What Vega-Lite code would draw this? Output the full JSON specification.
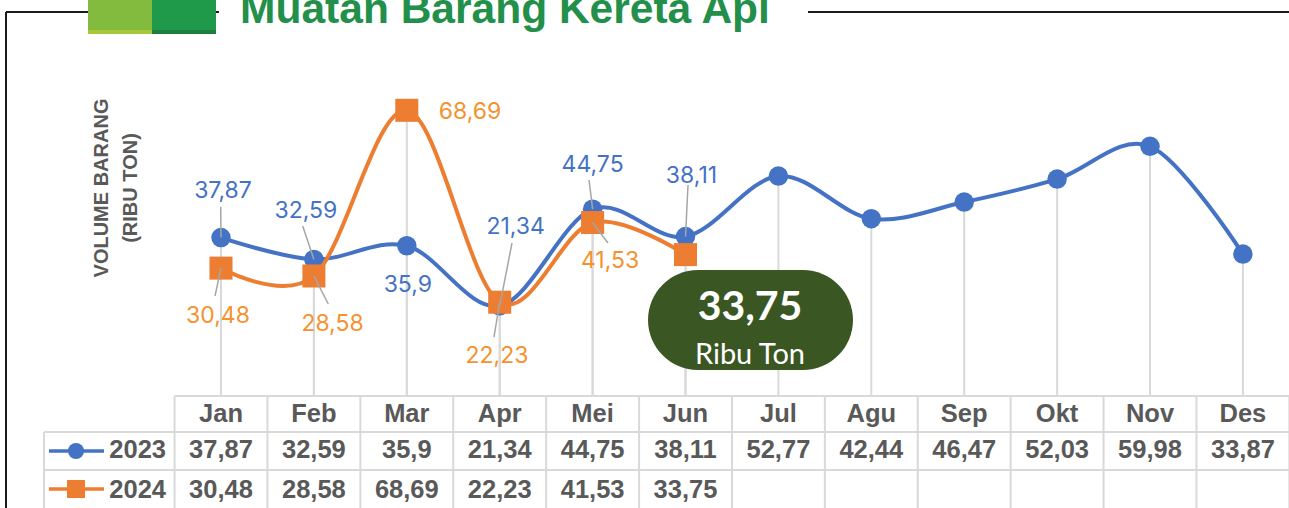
{
  "$schema": "https://vega.github.io/schema/vega-lite/v6.json",
  "width": 1289,
  "height": 508,
  "autosize": {"type": "none"},
  "padding": 0,
  "background": "white",
  "config": {
    "view": {"stroke": null},
    "locale": {"number": {"decimal": ",", "thousands": ".", "grouping": [3], "currency": ["", ""]}},
    "text": {"font": "Liberation Sans"}
  },
  "data": {
    "values": [
      {"month": "Jan", "i": 1, "year": "2023", "value": 37.87},
      {"month": "Feb", "i": 2, "year": "2023", "value": 32.59},
      {"month": "Mar", "i": 3, "year": "2023", "value": 35.9},
      {"month": "Apr", "i": 4, "year": "2023", "value": 21.34},
      {"month": "Mei", "i": 5, "year": "2023", "value": 44.75},
      {"month": "Jun", "i": 6, "year": "2023", "value": 38.11},
      {"month": "Jul", "i": 7, "year": "2023", "value": 52.77},
      {"month": "Agu", "i": 8, "year": "2023", "value": 42.44},
      {"month": "Sep", "i": 9, "year": "2023", "value": 46.47},
      {"month": "Okt", "i": 10, "year": "2023", "value": 52.03},
      {"month": "Nov", "i": 11, "year": "2023", "value": 59.98},
      {"month": "Des", "i": 12, "year": "2023", "value": 33.87},
      {"month": "Jan", "i": 1, "year": "2024", "value": 30.48},
      {"month": "Feb", "i": 2, "year": "2024", "value": 28.58},
      {"month": "Mar", "i": 3, "year": "2024", "value": 68.69},
      {"month": "Apr", "i": 4, "year": "2024", "value": 22.23},
      {"month": "Mei", "i": 5, "year": "2024", "value": 41.53},
      {"month": "Jun", "i": 6, "year": "2024", "value": 33.75}
    ]
  },
  "layer": [
    {"data": {"values": [{}]}, "mark": {"type": "rule", "color": "#1a1a1a", "strokeWidth": 2},
     "encoding": {"x": {"datum": -1.3143, "type": "quantitative", "scale": {"domain": [-1.3789, 12.4962], "nice": false, "zero": false}, "axis": null},
                  "x2": {"datum": 0.9785},
                  "y": {"datum": 92.49, "type": "quantitative", "scale": {"domain": [-27.603, 95.4], "nice": false, "zero": false}, "axis": null}}},
    {"data": {"values": [{}]}, "mark": {"type": "rule", "color": "#1a1a1a", "strokeWidth": 2},
     "encoding": {"x": {"datum": 7.3186}, "x2": {"datum": 12.4962}, "y": {"datum": 92.49}}},
    {"data": {"values": [{}]}, "mark": {"type": "rule", "color": "#1a1a1a", "strokeWidth": 2},
     "encoding": {"x": {"datum": -1.3143}, "y": {"datum": 92.49}, "y2": {"datum": -27.603}}},
    {"data": {"values": [{}]}, "mark": {"type": "rect", "color": "#83BB3E"},
     "encoding": {"x": {"datum": -0.4316}, "x2": {"datum": 0.2573}, "y": {"datum": 95.4}, "y2": {"datum": 87.17}}},
    {"data": {"values": [{}]}, "mark": {"type": "rect", "color": "#A8C83C"},
     "encoding": {"x": {"datum": -0.4316}, "x2": {"datum": 0.2573}, "y": {"datum": 88.14}, "y2": {"datum": 87.17}}},
    {"data": {"values": [{}]}, "mark": {"type": "rect", "color": "#1F9A4B"},
     "encoding": {"x": {"datum": 0.2573}, "x2": {"datum": 0.9462}, "y": {"datum": 95.4}, "y2": {"datum": 87.17}}},
    {"data": {"values": [{}]}, "mark": {"type": "rect", "color": "#1C8041"},
     "encoding": {"x": {"datum": 0.2573}, "x2": {"datum": 0.9462}, "y": {"datum": 88.14}, "y2": {"datum": 87.17}}},
    {"data": {"values": [{}]}, "mark": {"type": "text", "font": "Liberation Sans", "fontSize": 42.5, "fontWeight": "bold", "color": "#22904A", "align": "center", "baseline": "alphabetic"},
     "encoding": {"x": {"datum": 4.057}, "y": {"datum": 89.83}, "text": {"value": "Muatan Barang Kereta Api"}}},
    {"data": {"values": [{}]}, "mark": {"type": "text", "font": "Liberation Sans", "fontSize": 20, "fontWeight": "bold", "color": "#595959", "angle": 270, "align": "center", "baseline": "middle", "lineHeight": 29},
     "encoding": {"x": {"datum": -0.2756}, "y": {"datum": 49.88}, "text": {"value": ["VOLUME BARANG", "(RIBU TON)"]}}},

    {"mark": {"type": "rule", "color": "#D9D9D9", "strokeWidth": 2},
     "encoding": {"x": {"field": "i", "type": "quantitative"}, "y": {"field": "value", "type": "quantitative"}, "y2": {"datum": -0.484}}},

    {"data": {"values": [{}]}, "mark": {"type": "rule", "color": "#D9D9D9", "strokeWidth": 2},
     "encoding": {"x": {"datum": 0.5}, "x2": {"datum": 12.4962}, "y": {"datum": -0.484}}},
    {"data": {"values": [{}]}, "mark": {"type": "rule", "color": "#D9D9D9", "strokeWidth": 2},
     "encoding": {"x": {"datum": -0.9053}, "x2": {"datum": 12.4962}, "y": {"datum": -9.201}}},
    {"data": {"values": [{}]}, "mark": {"type": "rule", "color": "#D9D9D9", "strokeWidth": 2},
     "encoding": {"x": {"datum": -0.9053}, "x2": {"datum": 12.4962}, "y": {"datum": -18.402}}},
    {"data": {"values": [{}]}, "mark": {"type": "rule", "color": "#D9D9D9", "strokeWidth": 2},
     "encoding": {"x": {"datum": 0.5}, "y": {"datum": -0.484}, "y2": {"datum": -27.603}}},
    {"data": {"values": [{}]}, "mark": {"type": "rule", "color": "#D9D9D9", "strokeWidth": 2},
     "encoding": {"x": {"datum": -0.9053}, "y": {"datum": -9.201}, "y2": {"datum": -27.603}}},
    {"transform": [{"filter": "datum.year == '2023'"}],
     "mark": {"type": "rule", "color": "#D9D9D9", "strokeWidth": 2, "xOffset": 46.45},
     "encoding": {"x": {"field": "i", "type": "quantitative"}, "y": {"datum": -0.484}, "y2": {"datum": -27.603}}},

    {"transform": [{"filter": "datum.year == '2023'"}],
     "mark": {"type": "line", "color": "#4472C4", "strokeWidth": 4, "interpolate": "cardinal"},
     "encoding": {"x": {"field": "i", "type": "quantitative"}, "y": {"field": "value", "type": "quantitative"}}},
    {"transform": [{"filter": "datum.year == '2023'"}],
     "mark": {"type": "point", "shape": "circle", "filled": true, "opacity": 1, "size": 380, "color": "#4472C4"},
     "encoding": {"x": {"field": "i", "type": "quantitative"}, "y": {"field": "value", "type": "quantitative"}}},
    {"transform": [{"filter": "datum.year == '2024'"}],
     "mark": {"type": "line", "color": "#ED7D31", "strokeWidth": 4, "interpolate": "cardinal"},
     "encoding": {"x": {"field": "i", "type": "quantitative"}, "y": {"field": "value", "type": "quantitative"}}},
    {"transform": [{"filter": "datum.year == '2024'"}],
     "mark": {"type": "point", "shape": "square", "filled": true, "opacity": 1, "size": 530, "color": "#ED7D31"},
     "encoding": {"x": {"field": "i", "type": "quantitative"}, "y": {"field": "value", "type": "quantitative"}}},

    {"transform": [{"filter": "datum.year == '2023' && datum.month == 'Jan'"}], "mark": {"type": "rule", "color": "#A6A6A6", "strokeWidth": 1.5},
     "encoding": {"x": {"field": "i", "type": "quantitative"}, "y": {"field": "value", "type": "quantitative"}, "x2": {"datum": 0.9968}, "y2": {"datum": 45.35}}},
    {"transform": [{"filter": "datum.year == '2023' && datum.month == 'Feb'"}], "mark": {"type": "rule", "color": "#A6A6A6", "strokeWidth": 1.5},
     "encoding": {"x": {"field": "i", "type": "quantitative"}, "y": {"field": "value", "type": "quantitative"}, "x2": {"datum": 1.8794}, "y2": {"datum": 40.68}}},
    {"transform": [{"filter": "datum.year == '2024' && datum.month == 'Jan'"}], "mark": {"type": "rule", "color": "#A6A6A6", "strokeWidth": 1.5},
     "encoding": {"x": {"field": "i", "type": "quantitative"}, "y": {"field": "value", "type": "quantitative"}, "x2": {"datum": 0.9354}, "y2": {"datum": 23.73}}},
    {"transform": [{"filter": "datum.year == '2024' && datum.month == 'Feb'"}], "mark": {"type": "rule", "color": "#A6A6A6", "strokeWidth": 1.5},
     "encoding": {"x": {"field": "i", "type": "quantitative"}, "y": {"field": "value", "type": "quantitative"}, "x2": {"datum": 2.155}, "y2": {"datum": 21.79}}},
    {"transform": [{"filter": "datum.year == '2023' && datum.month == 'Apr'"}], "mark": {"type": "rule", "color": "#A6A6A6", "strokeWidth": 1.5},
     "encoding": {"x": {"field": "i", "type": "quantitative"}, "y": {"field": "value", "type": "quantitative"}, "x2": {"datum": 4.1324}, "y2": {"datum": 36.56}}},
    {"transform": [{"filter": "datum.year == '2024' && datum.month == 'Apr'"}], "mark": {"type": "rule", "color": "#A6A6A6", "strokeWidth": 1.5},
     "encoding": {"x": {"field": "i", "type": "quantitative"}, "y": {"field": "value", "type": "quantitative"}, "x2": {"datum": 3.9386}, "y2": {"datum": 13.8}}},
    {"transform": [{"filter": "datum.year == '2023' && datum.month == 'Mei'"}], "mark": {"type": "rule", "color": "#A6A6A6", "strokeWidth": 1.5},
     "encoding": {"x": {"field": "i", "type": "quantitative"}, "y": {"field": "value", "type": "quantitative"}, "x2": {"datum": 4.9613}, "y2": {"datum": 51.82}}},
    {"transform": [{"filter": "datum.year == '2024' && datum.month == 'Mei'"}], "mark": {"type": "rule", "color": "#A6A6A6", "strokeWidth": 1.5},
     "encoding": {"x": {"field": "i", "type": "quantitative"}, "y": {"field": "value", "type": "quantitative"}, "x2": {"datum": 5.1658}, "y2": {"datum": 36.56}}},
    {"transform": [{"filter": "datum.year == '2023' && datum.month == 'Jun'"}], "mark": {"type": "rule", "color": "#A6A6A6", "strokeWidth": 1.5},
     "encoding": {"x": {"field": "i", "type": "quantitative"}, "y": {"field": "value", "type": "quantitative"}, "x2": {"datum": 6.0269}, "y2": {"datum": 50.61}}},

    {"transform": [{"filter": "datum.year == '2023' && datum.month == 'Jan'"}], "mark": {"type": "text", "font": "Inter", "fontSize": 23, "color": "#4472C4", "align": "center", "baseline": "alphabetic", "dx": 2, "dy": -39.3},
     "encoding": {"x": {"field": "i", "type": "quantitative"}, "y": {"field": "value", "type": "quantitative"}, "text": {"field": "value", "type": "quantitative", "format": ".4~r"}}},
    {"transform": [{"filter": "datum.year == '2023' && datum.month == 'Feb'"}], "mark": {"type": "text", "font": "Inter", "fontSize": 23, "color": "#4472C4", "align": "center", "baseline": "alphabetic", "dx": -8, "dy": -41.1},
     "encoding": {"x": {"field": "i", "type": "quantitative"}, "y": {"field": "value", "type": "quantitative"}, "text": {"field": "value", "type": "quantitative", "format": ".4~r"}}},
    {"transform": [{"filter": "datum.year == '2023' && datum.month == 'Mar'"}], "mark": {"type": "text", "font": "Inter", "fontSize": 23, "color": "#4472C4", "align": "center", "baseline": "alphabetic", "dx": 1, "dy": 46},
     "encoding": {"x": {"field": "i", "type": "quantitative"}, "y": {"field": "value", "type": "quantitative"}, "text": {"field": "value", "type": "quantitative", "format": ".4~r"}}},
    {"transform": [{"filter": "datum.year == '2023' && datum.month == 'Apr'"}], "mark": {"type": "text", "font": "Inter", "fontSize": 23, "color": "#4472C4", "align": "center", "baseline": "alphabetic", "dx": 16, "dy": -71.9},
     "encoding": {"x": {"field": "i", "type": "quantitative"}, "y": {"field": "value", "type": "quantitative"}, "text": {"field": "value", "type": "quantitative", "format": ".4~r"}}},
    {"transform": [{"filter": "datum.year == '2023' && datum.month == 'Mei'"}], "mark": {"type": "text", "font": "Inter", "fontSize": 23, "color": "#4472C4", "align": "center", "baseline": "alphabetic", "dx": 0, "dy": -36.9},
     "encoding": {"x": {"field": "i", "type": "quantitative"}, "y": {"field": "value", "type": "quantitative"}, "text": {"field": "value", "type": "quantitative", "format": ".4~r"}}},
    {"transform": [{"filter": "datum.year == '2023' && datum.month == 'Jun'"}], "mark": {"type": "text", "font": "Inter", "fontSize": 23, "color": "#4472C4", "align": "center", "baseline": "alphabetic", "dx": 6, "dy": -53.3},
     "encoding": {"x": {"field": "i", "type": "quantitative"}, "y": {"field": "value", "type": "quantitative"}, "text": {"field": "value", "type": "quantitative", "format": ".4~r"}}},
    {"transform": [{"filter": "datum.year == '2024' && datum.month == 'Jan'"}], "mark": {"type": "text", "font": "Inter", "fontSize": 23, "color": "#F5922F", "align": "center", "baseline": "alphabetic", "dx": -3, "dy": 55.2},
     "encoding": {"x": {"field": "i", "type": "quantitative"}, "y": {"field": "value", "type": "quantitative"}, "text": {"field": "value", "type": "quantitative", "format": ".4~r"}}},
    {"transform": [{"filter": "datum.year == '2024' && datum.month == 'Feb'"}], "mark": {"type": "text", "font": "Inter", "fontSize": 23, "color": "#F5922F", "align": "center", "baseline": "alphabetic", "dx": 18.6, "dy": 54.7},
     "encoding": {"x": {"field": "i", "type": "quantitative"}, "y": {"field": "value", "type": "quantitative"}, "text": {"field": "value", "type": "quantitative", "format": ".4~r"}}},
    {"transform": [{"filter": "datum.year == '2024' && datum.month == 'Mar'"}], "mark": {"type": "text", "font": "Inter", "fontSize": 23, "color": "#F5922F", "align": "center", "baseline": "alphabetic", "dx": 63.2, "dy": 9},
     "encoding": {"x": {"field": "i", "type": "quantitative"}, "y": {"field": "value", "type": "quantitative"}, "text": {"field": "value", "type": "quantitative", "format": ".4~r"}}},
    {"transform": [{"filter": "datum.year == '2024' && datum.month == 'Apr'"}], "mark": {"type": "text", "font": "Inter", "fontSize": 23, "color": "#F5922F", "align": "center", "baseline": "alphabetic", "dx": -2.7, "dy": 60.5},
     "encoding": {"x": {"field": "i", "type": "quantitative"}, "y": {"field": "value", "type": "quantitative"}, "text": {"field": "value", "type": "quantitative", "format": ".4~r"}}},
    {"transform": [{"filter": "datum.year == '2024' && datum.month == 'Mei'"}], "mark": {"type": "text", "font": "Inter", "fontSize": 23, "color": "#F5922F", "align": "center", "baseline": "alphabetic", "dx": 17.4, "dy": 45.8},
     "encoding": {"x": {"field": "i", "type": "quantitative"}, "y": {"field": "value", "type": "quantitative"}, "text": {"field": "value", "type": "quantitative", "format": ".4~r"}}},

    {"transform": [{"filter": "datum.year == '2023'"}], "mark": {"type": "text", "font": "Liberation Sans", "fontSize": 25.5, "fontWeight": "bold", "color": "#595959", "align": "center", "baseline": "alphabetic"},
     "encoding": {"x": {"field": "i", "type": "quantitative"}, "y": {"datum": -6.707}, "text": {"field": "month", "type": "nominal"}}},
    {"transform": [{"filter": "datum.year == '2023'"}], "mark": {"type": "text", "font": "Liberation Sans", "fontSize": 25.5, "fontWeight": "bold", "color": "#595959", "align": "center", "baseline": "alphabetic"},
     "encoding": {"x": {"field": "i", "type": "quantitative"}, "y": {"datum": -15.569}, "text": {"field": "value", "type": "quantitative", "format": ".4~r"}}},
    {"transform": [{"filter": "datum.year == '2024'"}], "mark": {"type": "text", "font": "Liberation Sans", "fontSize": 25.5, "fontWeight": "bold", "color": "#595959", "align": "center", "baseline": "alphabetic"},
     "encoding": {"x": {"field": "i", "type": "quantitative"}, "y": {"datum": -25.254}, "text": {"field": "value", "type": "quantitative", "format": ".4~r"}}},

    {"data": {"values": [{}]}, "mark": {"type": "rule", "color": "#4472C4", "strokeWidth": 3.5},
     "encoding": {"x": {"datum": -0.8515}, "x2": {"datum": -0.2594}, "y": {"datum": -13.8}}},
    {"data": {"values": [{}]}, "mark": {"type": "point", "shape": "circle", "filled": true, "opacity": 1, "size": 260, "color": "#4472C4"},
     "encoding": {"x": {"datum": -0.5608}, "y": {"datum": -13.8}}},
    {"data": {"values": [{}]}, "mark": {"type": "text", "font": "Liberation Sans", "fontSize": 25.5, "fontWeight": "bold", "color": "#595959", "align": "right", "baseline": "alphabetic"},
     "encoding": {"x": {"datum": 0.408}, "y": {"datum": -15.569}, "text": {"value": "2023"}}},
    {"data": {"values": [{}]}, "mark": {"type": "rule", "color": "#ED7D31", "strokeWidth": 3.5},
     "encoding": {"x": {"datum": -0.8515}, "x2": {"datum": -0.2594}, "y": {"datum": -23.0}}},
    {"data": {"values": [{}]}, "mark": {"type": "point", "shape": "square", "filled": true, "opacity": 1, "size": 324, "color": "#ED7D31"},
     "encoding": {"x": {"datum": -0.5608}, "y": {"datum": -23.0}}},
    {"data": {"values": [{}]}, "mark": {"type": "text", "font": "Liberation Sans", "fontSize": 25.5, "fontWeight": "bold", "color": "#595959", "align": "right", "baseline": "alphabetic"},
     "encoding": {"x": {"datum": 0.408}, "y": {"datum": -25.254}, "text": {"value": "2024"}}},

    {"data": {"values": [{}]}, "mark": {"type": "rect", "color": "#3A5723", "cornerRadius": 50},
     "encoding": {"x": {"datum": 5.5963}, "x2": {"datum": 7.803}, "y": {"datum": 30.024}, "y2": {"datum": 5.811}}},
    {"transform": [{"filter": "datum.year == '2024' && datum.month == 'Jun'"}], "mark": {"type": "text", "font": "Lato", "fontSize": 41, "fontWeight": "bold", "color": "white", "align": "center", "baseline": "alphabetic"},
     "encoding": {"x": {"datum": 6.6943}, "y": {"datum": 17.918}, "text": {"field": "value", "type": "quantitative", "format": ".4~r"}}},
    {"data": {"values": [{}]}, "mark": {"type": "text", "font": "Lato", "fontSize": 29, "color": "white", "align": "center", "baseline": "alphabetic"},
     "encoding": {"x": {"datum": 6.6943}, "y": {"datum": 7.264}, "text": {"value": "Ribu Ton"}}}
  ]
}
